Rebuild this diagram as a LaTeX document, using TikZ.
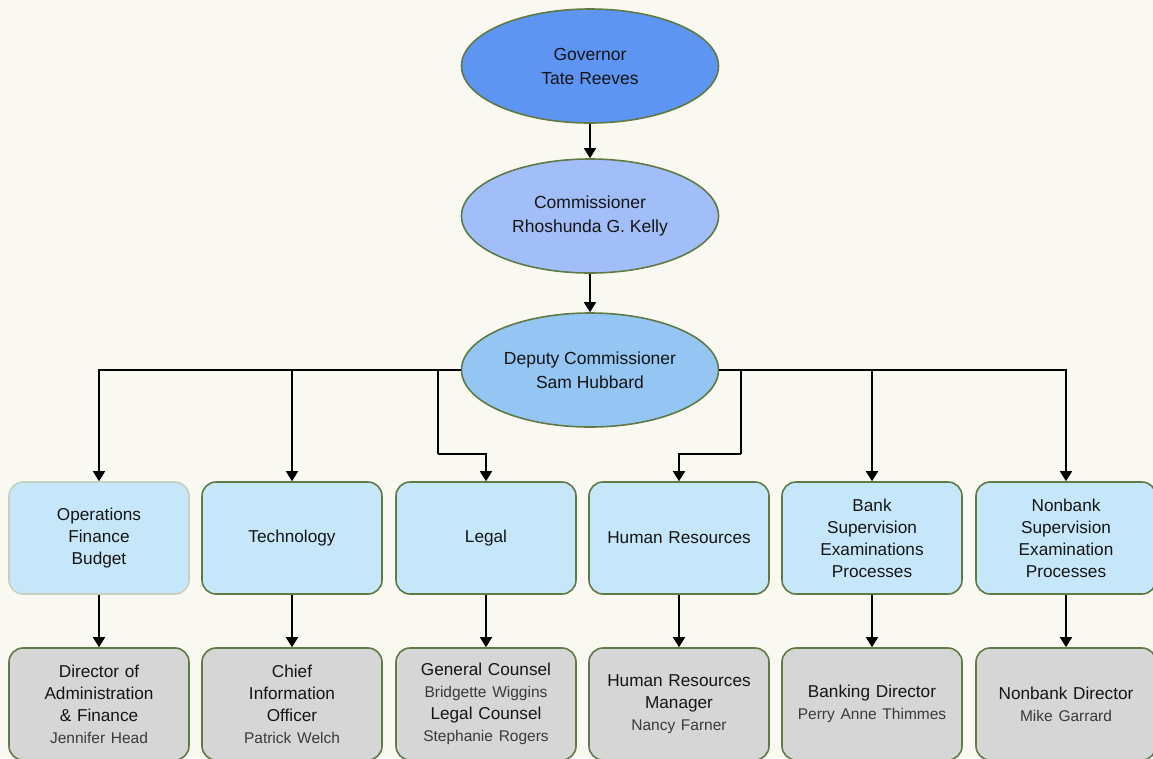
\documentclass[tikz,border=0pt]{standalone}
\usepackage{fontspec}
\setmainfont{Liberation Sans}
\usetikzlibrary{shapes.geometric,arrows.meta}
\definecolor{bgc}{HTML}{FAF9F1}
\definecolor{edgec}{HTML}{5F7A45}
\definecolor{govc}{HTML}{5E94F2}
\definecolor{comc}{HTML}{A2BEF8}
\definecolor{depc}{HTML}{94C5F3}
\definecolor{unitc}{HTML}{C6E7F9}
\definecolor{headc}{HTML}{D6D6D6}
\definecolor{namec}{HTML}{3A3A3A}
\definecolor{txtc}{HTML}{151515}
\tikzset{
  oval/.style={ellipse, draw=edgec, line width=1.6pt, minimum width=257pt, minimum height=114pt, inner sep=0pt, align=center, text=txtc, font=\fontsize{17.5}{24}\selectfont},
  unit/.style={rectangle, rounded corners=14pt, draw=edgec, line width=1.6pt, fill=unitc, minimum width=180pt, minimum height=112pt, text width=172pt, align=center, inner sep=0pt, text=txtc, font=\fontsize{17.2}{22}\selectfont},
  head/.style={unit, fill=headc},
  conn/.style={line width=1.5pt, -{Triangle[width=12pt,length=10pt]}}
}
\newcommand{\pname}[1]{{\fontsize{15.5}{22}\selectfont\color{namec}#1}}
\begin{document}
\begin{tikzpicture}[x=1pt,y=-1pt]
\fill[bgc] (0,0) rectangle (1153,758);
\useasboundingbox (0,0) rectangle (1153,758);

\node[oval, fill=govc] (gov) at (590,66) {Governor\\Tate Reeves};
\node[oval, fill=comc] (com) at (590,216) {Commissioner\\Rhoshunda G. Kelly};
\node[oval, fill=depc] (dep) at (590,370) {Deputy Commissioner\\Sam Hubbard};

\node[unit, draw=edgec!35] (u1) at (99,538) {Operations\\Finance\\Budget};
\node[unit] (u2) at (292,538) {Technology};
\node[unit] (u3) at (486,538) {Legal};
\node[unit] (u4) at (679,538) {Human Resources};
\node[unit] (u5) at (872,538) {Bank\\Supervision\\Examinations\\Processes};
\node[unit] (u6) at (1066,538) {Nonbank\\Supervision\\Examination\\Processes};

\node[head] (h1) at (99,704) {Director of\\Administration\\\& Finance\\\pname{Jennifer Head}};
\node[head] (h2) at (292,704) {Chief\\Information\\Officer\\\pname{Patrick Welch}};
\node[head] (h3) at (486,704) {General Counsel\\\pname{Bridgette Wiggins}\\Legal Counsel\\\pname{Stephanie Rogers}};
\node[head] (h4) at (679,704) {Human Resources\\Manager\\\pname{Nancy Farner}};
\node[head] (h5) at (872,704) {Banking Director\\\pname{Perry Anne Thimmes}};
\node[head] (h6) at (1066,704) {Nonbank Director\\\pname{Mike Garrard}};

\coordinate (k3) at (438,454);
\coordinate (k4) at (741,454);

\draw[conn] (gov) -- (com);
\draw[conn] (com) -- (dep);
\draw[conn] (dep.west) -| (u1.north);
\draw[conn] (dep.west) -| (u2.north);
\draw[line width=1.5pt] (dep.west) -| (k3);
\draw[conn] (k3) -| (u3.north);
\draw[line width=1.5pt] (dep.east) -| (k4);
\draw[conn] (k4) -| (u4.north);
\draw[conn] (dep.east) -| (u5.north);
\draw[conn] (dep.east) -| (u6.north);

\foreach \i in {1,...,6}{\draw[conn] (u\i.south) -- (h\i.north);}
\end{tikzpicture}
\end{document}
